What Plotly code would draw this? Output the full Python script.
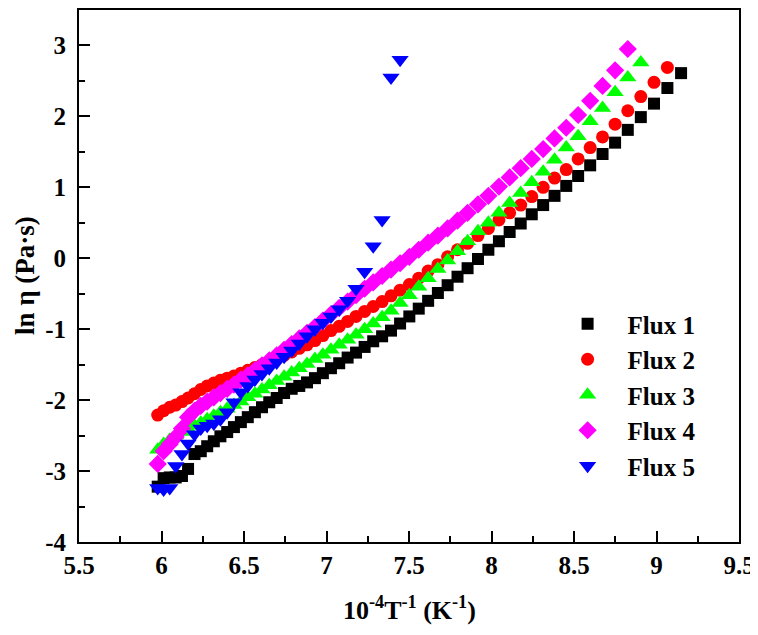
import plotly.graph_objects as go

# 10^4/T values (K^-1 scaled), shared temperature grid
x_grid = [5.977, 6.013, 6.050, 6.086, 6.124, 6.161, 6.200, 6.238, 6.277, 6.317,
          6.357, 6.398, 6.439, 6.481, 6.523, 6.566, 6.609, 6.653, 6.698, 6.743,
          6.789, 6.835, 6.882, 6.930, 6.978, 7.027, 7.077, 7.128, 7.179, 7.231,
          7.283, 7.337, 7.391, 7.446, 7.502, 7.559, 7.616, 7.675, 7.734, 7.794,
          7.855, 7.918, 7.981, 8.045, 8.110, 8.177, 8.244, 8.313, 8.382, 8.453,
          8.525, 8.598, 8.673, 8.749, 8.826, 8.905, 8.985, 9.066, 9.149]

flux1 = [-3.22, -3.10, -3.09, -3.09, -3.07, -2.97, -2.76, -2.72, -2.65, -2.58,
         -2.51, -2.45, -2.38, -2.31, -2.24, -2.17, -2.10, -2.03, -1.97, -1.90,
         -1.84, -1.80, -1.75, -1.69, -1.62, -1.55, -1.48, -1.40, -1.33, -1.25,
         -1.17, -1.10, -1.02, -0.92, -0.82, -0.71, -0.60, -0.49, -0.38, -0.26,
         -0.14, -0.01, 0.12, 0.24, 0.37, 0.49, 0.62, 0.75, 0.88, 1.02,
         1.16, 1.31, 1.47, 1.63, 1.81, 1.99, 2.18, 2.40, 2.61]

flux2 = [-2.21, -2.15, -2.10, -2.07, -2.02, -1.97, -1.91, -1.85, -1.80, -1.76,
         -1.72, -1.69, -1.66, -1.62, -1.58, -1.54, -1.50, -1.46, -1.42, -1.37,
         -1.32, -1.27, -1.22, -1.16, -1.09, -1.02, -0.96, -0.89, -0.82, -0.75,
         -0.68, -0.61, -0.53, -0.45, -0.37, -0.28, -0.18, -0.09, 0.02, 0.12,
         0.21, 0.32, 0.42, 0.54, 0.64, 0.75, 0.87, 1.00, 1.13, 1.25,
         1.40, 1.56, 1.71, 1.89, 2.08, 2.28, 2.48, 2.69]

flux3 = [-2.70, -2.62, -2.56, -2.50, -2.45, -2.41, -2.36, -2.32, -2.27, -2.22,
         -2.17, -2.12, -2.07, -2.02, -1.96, -1.91, -1.85, -1.79, -1.73, -1.67,
         -1.61, -1.55, -1.49, -1.42, -1.36, -1.29, -1.22, -1.15, -1.08, -1.00,
         -0.92, -0.83, -0.74, -0.63, -0.52, -0.40, -0.28, -0.15, -0.03, 0.10,
         0.24, 0.38, 0.50, 0.64, 0.78, 0.92, 1.07, 1.22, 1.39, 1.56,
         1.72, 1.93, 2.12, 2.34, 2.55, 2.76]

flux4 = [-2.90, -2.72, -2.62, -2.52, -2.40, -2.24, -2.15, -2.08, -2.02, -1.96,
         -1.90, -1.84, -1.78, -1.71, -1.65, -1.58, -1.51, -1.44, -1.37, -1.29,
         -1.21, -1.13, -1.05, -0.97, -0.88, -0.79, -0.70, -0.61, -0.52, -0.43,
         -0.34, -0.25, -0.16, -0.07, 0.02, 0.12, 0.22, 0.32, 0.42, 0.53,
         0.64, 0.76, 0.88, 1.01, 1.14, 1.27, 1.40, 1.54, 1.69, 1.84,
         2.02, 2.22, 2.43, 2.65, 2.95]

flux5 = [-3.24, -3.26, -3.24, -2.93, -2.76, -2.61, -2.48, -2.40, -2.36, -2.33,
         -2.27, -2.17, -2.03, -1.89, -1.80, -1.71, -1.63, -1.55, -1.47, -1.39,
         -1.30, -1.20, -1.10, -1.00, -0.91, -0.82, -0.72, -0.60, -0.43, -0.19,
         0.17, 0.54, 2.55, 2.80]

x_ticks = [5.5, 6, 6.5, 7, 7.5, 8, 8.5, 9, 9.5]
x_ticklabels = ["5.5", "6", "6.5", "7", "7.5", "8", "8.5", "9", "9.5"]
y_ticks = [-4, -3, -2, -1, 0, 1, 2, 3]
y_ticklabels = ["-4", "-3", "-2", "-1", "0", "1", "2", "3"]

names = ["Flux 1", "Flux 2", "Flux 3", "Flux 4", "Flux 5"]
series = [flux1, flux2, flux3, flux4, flux5]
colors = ["#000000", "#FF0000", "#00FF00", "#FF00FF", "#0000FF"]
symbols = ["square", "circle", "triangle-up", "diamond", "triangle-down"]
sizes = [12, 13, 15, 14, 15]

FONT = "Liberation Serif, Times New Roman, serif"

fig = go.Figure()
for name, ys, c, s, sz in zip(names, series, colors, symbols, sizes):
    fig.add_trace(go.Scatter(
        x=x_grid[:len(ys)], y=ys, mode="markers", name=name,
        marker=dict(symbol=s, color=c, size=sz, line=dict(width=0)),
    ))

axis_common = dict(
    showgrid=False, zeroline=False, showline=True, linecolor="black",
    linewidth=2, mirror=True, ticks="inside", tickwidth=2, ticklen=11,
    tickcolor="black", automargin=False, ticklabeloverflow="allow",
    tickfont=dict(family=FONT, size=25, color="black"),
)

fig.update_xaxes(range=[5.5, 9.5], tickmode="array", tickvals=x_ticks,
                 ticktext=["<b>%s</b>" % t for t in x_ticklabels],
                 minor=dict(ticks="inside", dtick=0.25, tick0=5.5, ticklen=6,
                            tickwidth=2, tickcolor="black"),
                 **axis_common)
fig.update_yaxes(range=[-4, 3.5], tickmode="array", tickvals=y_ticks,
                 ticktext=["<b>%s</b>" % t for t in y_ticklabels],
                 ticklabelstandoff=6,
                 minor=dict(ticks="inside", dtick=0.5, tick0=-4, ticklen=6,
                            tickwidth=2, tickcolor="black"),
                 **axis_common)

fig.add_annotation(text="<b>10<sup>-4</sup>T<sup>-1</sup> (K<sup>-1</sup>)</b>",
                   xref="paper", yref="paper", x=0.5, y=0, yanchor="middle",
                   yshift=-66, showarrow=False,
                   font=dict(family=FONT, size=26, color="black"))
fig.add_annotation(text="<b>ln η (Pa·s)</b>",
                   xref="paper", yref="paper", x=0, y=0.5, xanchor="center",
                   xshift=-54, textangle=-90, showarrow=False,
                   font=dict(family=FONT, size=27, color="black"))

# page body has an 8px default margin, so the figure is sized to fit after it
fig.update_layout(
    width=750, height=627,
    margin=dict(l=71, r=19, t=2, b=93),
    paper_bgcolor="white", plot_bgcolor="white",
    showlegend=True,
    legend=dict(x=0.71, y=0.453, xanchor="left", yanchor="top",
                bgcolor="rgba(0,0,0,0)", itemwidth=70,
                font=dict(family=FONT, size=25, color="black", weight="bold"),
                tracegroupgap=0),
)

fig.write_html("out.html")
